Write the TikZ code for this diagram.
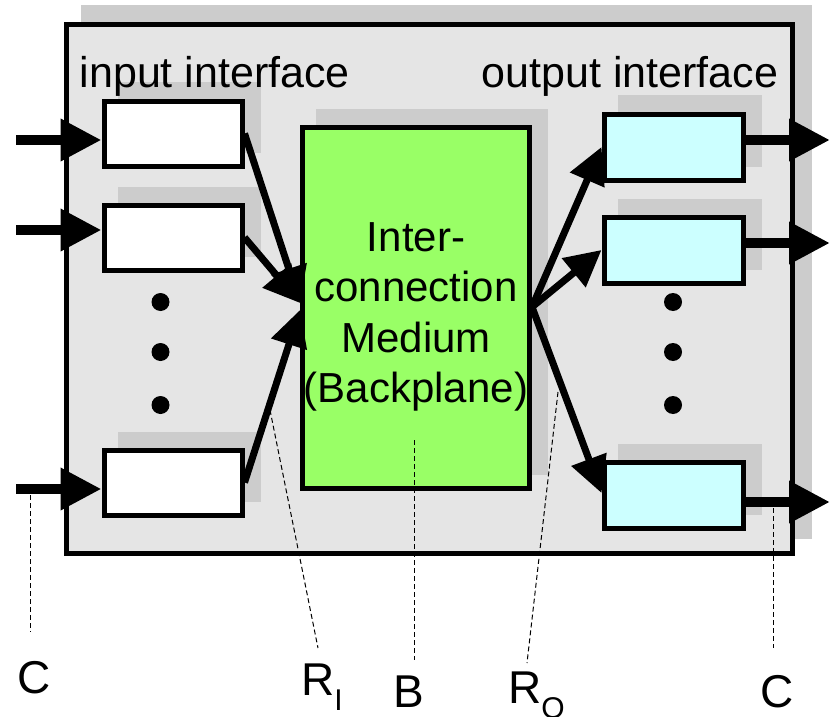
\documentclass[tikz,border=0pt]{standalone}
\usepackage{fontspec}
\setmainfont{Liberation Sans}
\usetikzlibrary{arrows.meta,shadows}
\definecolor{panelgray}{HTML}{E5E5E5}
\definecolor{shadegray}{HTML}{CCCCCC}
\definecolor{mediumgreen}{HTML}{99FF66}
\definecolor{portcyan}{HTML}{CCFFFF}

\begin{document}
\begin{tikzpicture}[x=1pt,y=-1pt,
  shaded/.style={general shadow={fill=shadegray, draw=shadegray, opacity=1,
      shadow xshift=#1, shadow yshift=#1}},
  shaded/.default=16pt,
  box/.style={draw=black, line width=5pt, rectangle, inner sep=0pt},
  inport/.style={box, shaded, fill=white, minimum width=138pt, minimum height=65pt},
  outport/.style={box, shaded, fill=portcyan, minimum width=139pt, minimum height=66pt},
  bigarrow/.style={line width=10pt, -{Triangle[length=41pt,width=40pt]}},
  midarrow/.style={line width=7pt, -{Triangle[length=36pt,width=36pt]}},
  leader/.style={line width=1pt, dash pattern=on 5pt off 3pt},
  caption/.style={inner sep=0pt, font=\fontsize{42}{50.3}\selectfont},
  heading/.style={inner sep=0pt, font=\fontsize{43}{50}\selectfont},
  tag/.style={inner sep=0pt, font=\fontsize{46}{50}\selectfont},
  dot/.style={circle, fill=black, inner sep=0pt, minimum size=18pt}
]
\useasboundingbox (0,0) rectangle (833,717);

% router chassis
\node[box, shaded=17pt, fill=panelgray, minimum width=725.5pt, minimum height=528.5pt]
  (router) at (429.25,288.75) {};

% port cards and the switching medium
\node[inport] (b1) at (173,133.5) {};
\node[inport] (b2) at (173,237.5) {};
\node[inport] (b3) at (173,482.5) {};
\node[outport] (o1) at (673.5,147) {};
\node[outport] (o2) at (673.5,250) {};
\node[outport] (o3) at (673.5,495.5) {};
\node[box, shaded, fill=mediumgreen, minimum width=227pt, minimum height=361pt]
  (g) at (416,308) {};
\node[caption, align=center] (gtext) at (416,317)
  {Inter-\\connection\\Medium\\(Backplane)};

% headings
\node[heading, anchor=base west] (inhead) at (79.5,88) {input interface};
\node[heading, anchor=base west] (outhead) at (481.5,88) {output interface};

% ellipsis dots
\node[dot] (di1) at (160.5,302) {};
\node[dot] (di2) at (160.5,352) {};
\node[dot] (di3) at (160.5,405) {};
\node[dot] (do1) at (673,302) {};
\node[dot] (do2) at (673,352) {};
\node[dot] (do3) at (673,405) {};

% line inputs and outputs
\coordinate (i1) at (16,140);
\coordinate (i2) at (16,230);
\coordinate (i3) at (16,489);
\coordinate (e1) at (830,140);
\coordinate (e2) at (830,243);
\coordinate (e3) at (830,502);
\draw[bigarrow] (i1) -- (i1 -| b1.west);
\draw[bigarrow] (i2) -- (i2 -| b2.west);
\draw[bigarrow] (i3) -- (i3 -| b3.west);
\draw[bigarrow] (e1 -| o1.east) -- (e1);
\draw[bigarrow] (e2 -| o2.east) -- (e2);
\draw[bigarrow] (e3 -| o3.east) -- (e3);

% paths through the backplane
\draw[midarrow] (b1.east) -- ([yshift=5pt]g.west);
\draw[midarrow] (b2.east) -- ([yshift=5pt]g.west);
\draw[midarrow] (b3.east) -- ([yshift=-2pt]g.west);
\draw[midarrow] ([yshift=1pt]g.east) -- (o1.west);
\draw[midarrow] ([yshift=1pt]g.east) -- (o2.west);
\draw[midarrow] ([yshift=1pt]g.east) -- ([yshift=2.5pt]o3.west);

% rate labels
\node[tag, anchor=base] (cin) at (34,693) {C};
\node[tag, anchor=base west] (ri) at (301,695)
  {R\raisebox{-15pt}{\fontsize{30}{30}\selectfont I}};
\node[tag, anchor=base west] (bb) at (393.6,707) {B};
\node[tag, anchor=base west] (ro) at (508,703)
  {R\raisebox{-15pt}{\fontsize{30}{30}\selectfont O}};
\node[tag, anchor=base] (cout) at (777,707) {C};

\coordinate (cinA) at (30,495);   \coordinate (cinB) at (30,632);
\coordinate (riA) at (270,410);   \coordinate (riB) at (318,648);
\coordinate (bbA) at (414,440);   \coordinate (bbB) at (414,660);
\coordinate (roA) at (558,392);   \coordinate (roB) at (527,663);
\coordinate (coutA) at (773,508); \coordinate (coutB) at (773,648);
\draw[leader] (cinA) -- (cinB);
\draw[leader] (riA) -- (riB);
\draw[leader] (bbA) -- (bbB);
\draw[leader] (roA) -- (roB);
\draw[leader] (coutA) -- (coutB);
\end{tikzpicture}
\end{document}
